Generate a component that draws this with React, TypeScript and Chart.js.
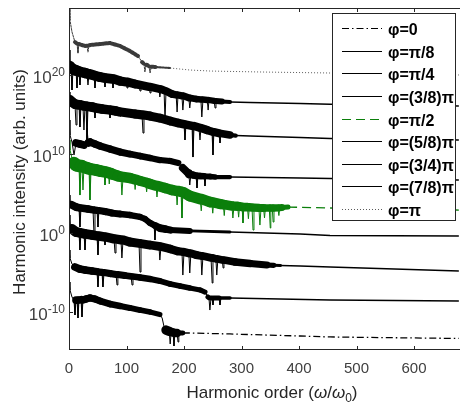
import React, { useEffect, useRef } from 'react';
import { Chart, registerables } from 'chart.js';

Chart.register(...registerables);

// ---------- data: [harmonic order, log10(intensity)] ----------
const X_TICKS = [0, 100, 200, 300, 400, 500, 600];
const Y_TICKS = [-10, 0, 10, 20];
const Y_TICK_EXP = ['-10', '0', '10', '20'];
const LEGEND_LABELS = ['φ=0', 'φ=π/8', 'φ=π/4', 'φ=(3/8)π', 'φ=π/2', 'φ=(5/8)π', 'φ=(3/4)π', 'φ=(7/8)π', 'φ=π'];
const X_TITLE = ['Harmonic order (', 'ω', '/', 'ω', '0', ')'];
const Y_TITLE = 'Harmonic intensity (arb. units)';

const phi0 = [[0,-6.21],[1.7,-7.22],[5.2,-8.11],[8.7,-8.49],[10.4,-10.39],[12.2,-8.49],[14,-8.49],[15.6,-10.77],[17.4,-8.49],[20.9,-8.45],[22.6,-10.64],[24.3,-8.49],[29.6,-8.36],[36.5,-8.24],[45.2,-8.36],[54,-8.62],[71.3,-9.0],[88.7,-9.25],[106,-9.5],[123.5,-9.76],[141,-10.01],[158,-10.33],[162,-10.77],[165,-11.78],[168.7,-12.29],[174.3,-12.45],[176,-14.06],[177.6,-12.54],[181,-12.6],[182.6,-14.31],[184,-12.67],[188,-12.67],[189.6,-13.81],[191,-12.67],[198,-12.67],[210,-12.67],[280,-12.79],[402,-13.05],[454,-13.17],[678,-13.36]];
const phi1 = [[0,-2.16],[1.7,-3.17],[5.2,-3.93],[10.4,-4.31],[19,-4.57],[27.8,-4.69],[40,-4.82],[48.7,-4.9],[50.4,-6.84],[52,-4.95],[57.4,-5.0],[59,-6.84],[61,-5.01],[71.3,-5.14],[81.8,-5.25],[83.5,-6.59],[85,-5.26],[97,-5.39],[108,-5.5],[109.6,-6.59],[111.3,-5.51],[123.5,-5.64],[141,-5.83],[158,-6.08],[176,-6.46],[193,-6.72],[210,-6.97],[228,-7.22],[236.5,-7.48],[241.7,-8.11],[243.4,-8.2],[245,-9.76],[247,-8.24],[249,-8.24],[250.4,-9.12],[252,-8.24],[261,-8.24],[262.6,-9.12],[264.3,-8.24],[280,-8.24],[454,-8.49],[678,-8.62]];
const phi2 = [[0,2.27],[1.7,1.13],[5.2,0.5],[12.2,0.12],[17.4,0.05],[19,-2.16],[20.9,0],[26.1,-0.1],[27.8,-2.16],[29.6,-0.13],[40,-0.26],[48.7,-0.37],[50.4,-2.79],[52,-0.39],[61,-0.5],[62.6,-1.53],[64.3,-0.51],[78.3,-0.75],[80,-2.54],[81.7,-0.77],[90.4,-0.87],[92,-3.17],[94,-0.89],[106,-1.15],[121.8,-1.32],[123.5,-4.95],[125.2,-1.34],[141,-1.53],[156.5,-1.7],[158,-3.43],[160,-1.72],[176,-2.03],[188,-2.29],[196.5,-2.38],[198,-5.33],[200,-2.41],[208.5,-2.57],[210,-5.07],[212,-2.6],[221,-2.79],[229.5,-2.9],[231,-5.33],[233,-2.92],[247,-3.15],[249,-6.34],[250.4,-3.17],[255.5,-3.28],[257,-5.33],[259,-3.3],[266.5,-3.42],[268,-4.44],[269.5,-3.43],[289,-3.68],[315,-3.87],[344,-4.06],[356,-4.1],[368,-4.13],[402,-4.19],[454,-4.31],[678,-4.82]];
const phi3 = [[0,4.8],[1.7,3.92],[5.2,3.54],[12.2,3.28],[17.4,3.18],[19,0.75],[20.9,3.16],[33,3.03],[41.8,2.92],[43.5,-0.26],[45.2,2.9],[48.7,2.87],[50.4,0.75],[52,2.84],[62.6,2.71],[74.8,2.52],[88.7,2.4],[106,2.27],[123.5,2.02],[132,1.77],[141,1.26],[148,1.0],[149.5,-0.89],[151,0.88],[158,0.62],[167,0.5],[176,0.37],[210,0.25],[280,0.12],[402,-0.13],[454,-0.32],[678,-0.39]];
const phi4 = [[0,11.77],[1.7,10.5],[5.2,9.49],[8.7,8.85],[12.2,8.6],[17.4,8.5],[19,4.8],[20.9,8.47],[22.6,8.45],[24.3,5.44],[26,8.35],[31.3,8.22],[34.8,8.15],[36.5,4.17],[38.3,8.09],[47,7.97],[54,7.84],[61,7.75],[62.6,6.07],[64.3,7.71],[68.5,7.62],[70,6.2],[71.6,7.58],[74.8,7.46],[85,7.21],[90.4,7.12],[92,4.8],[94,7.08],[106,6.95],[113.3,6.8],[115,5.5],[116.6,6.78],[123.5,6.58],[133.3,6.4],[135,5.2],[136.6,6.35],[141,6.2],[151.3,5.98],[153,4.55],[154.8,5.94],[167,5.69],[179,5.44],[186.4,5.33],[188,3.54],[189.6,5.31],[194.8,5.22],[196.5,1.89],[198,5.18],[210,4.68],[228,4.3],[230,2.8],[231.6,4.27],[245,3.92],[248.3,3.88],[250,2.5],[251.6,3.85],[262.6,3.66],[268.3,3.6],[270,2.2],[271.6,3.56],[283.4,3.42],[285,1.89],[287,3.41],[293.3,3.38],[295,2.0],[296.6,3.36],[301,3.3],[302.6,1.26],[304,3.28],[310.3,3.26],[312,1.8],[313.6,3.25],[318.3,3.23],[320,0.37],[321.7,3.22],[330.3,3.17],[332,1.0],[334,3.16],[338.3,3.16],[340,1.9],[341.6,3.16],[348.3,3.16],[350,0.62],[351,3.16],[353.5,3.16],[355,1.38],[356.5,3.16],[363.3,3.18],[365,2.2],[366.6,3.2],[370,3.22],[381,3.28],[454,3.16],[678,2.9]];
const phi5 = [[0,14.3],[1.7,12.4],[5.2,11.51],[8.7,9.87],[12.2,11.39],[19,11.26],[26,11.13],[29.6,11.8],[31.3,13.29],[33,11.8],[34,11.39],[36.5,11.51],[45.2,11.26],[54,11.01],[71.3,10.63],[88.7,10.25],[106,9.99],[123.5,9.74],[141,9.49],[158,9.23],[176,9.11],[190,8.85],[198,8.22],[207,7.59],[208.6,7.4],[210,6.07],[212,7.4],[215.6,7.33],[221,7.25],[222.6,5.69],[224.3,7.22],[227.8,7.21],[235,7.17],[236.5,5.94],[238,7.16],[245,7.14],[254,7.08],[280,7.08],[402,6.95],[454,6.89],[678,6.7]];
const phi6 = [[0,17.84],[1.7,16.83],[5.2,16.58],[10.4,16.32],[12.2,13.67],[13.9,16.26],[17.4,16.22],[19,13.41],[20.9,16.2],[24.3,16.1],[26,13.03],[27.8,16.07],[29.6,16.05],[31.3,11.77],[33,16.01],[40,15.94],[43.5,15.88],[45.2,14.55],[47,15.82],[57.4,15.69],[69.6,15.58],[71.3,14.55],[73,15.56],[81.7,15.44],[87,15.33],[88.7,14.8],[90.4,15.31],[114.8,15.06],[127,14.95],[128.7,12.65],[130.4,14.93],[141,14.8],[158,14.55],[176,14.17],[189.6,13.92],[200,13.76],[201.7,11.77],[203.5,13.73],[214,13.56],[215.6,9.61],[217.4,13.54],[226,13.35],[227.8,11.77],[229.5,13.29],[240,13.03],[248.7,12.82],[250.4,9.87],[252,12.78],[261,12.62],[262.6,11.39],[264.3,12.59],[280,12.4],[290,12.33],[315,12.27],[402,12.08],[454,11.96],[678,11.77]];
const phi7 = [[0,23.16],[1.7,21.1],[3.5,20.88],[5.2,18.1],[7,20.75],[10.4,20.63],[12.2,20.58],[13.9,18.35],[15.6,20.5],[17.4,20.45],[19,18.73],[20.9,20.38],[27.8,20.25],[31.3,20.18],[33,18.73],[34.8,20.12],[43.5,19.95],[45.2,18.35],[47,19.87],[54,19.74],[61,19.63],[62.6,18.48],[64.3,19.6],[74.8,19.51],[76.5,18.35],[78.3,19.49],[88.7,19.24],[99.3,19.12],[101,18.35],[102.6,19.1],[114.8,18.86],[121.8,18.76],[123.5,17.97],[125.2,18.73],[139.3,18.5],[141,17.72],[142.6,18.48],[156.5,18.24],[158,17.21],[160,18.22],[165.3,18.05],[167,14.3],[168.7,17.97],[179,17.59],[186.3,17.48],[188,15.31],[189.6,17.46],[196.4,17.36],[198,15.56],[200,17.34],[208.4,17.1],[210,15.82],[212,17.08],[221,16.96],[229.4,16.9],[231,14.68],[233,16.89],[240.4,16.84],[242,15.56],[243.5,16.83],[252.4,16.72],[254,15.82],[255.6,16.7],[266,16.64],[280,16.58],[315,16.51],[402,16.39],[454,16.29],[678,16.07]];
const phi8 = [[0,28.35],[1.7,26.96],[5.2,25.44],[10.4,24.17],[14,23.95],[15.6,22.78],[17,23.92],[28,23.67],[31.3,23.7],[33,22.91],[34.8,23.75],[36.5,23.79],[54,23.92],[71,24.05],[89,23.67],[106,23.03],[120,22.4],[127,21.64],[130.4,21.4],[132,20.38],[134,21.3],[136,21.26],[139.3,21.1],[141,20.25],[143,21.05],[150,21.01],[176,20.88],[210,20.63],[245,20.5],[332,20.38],[454,20.25],[678,20.0]];

const SERIES = [phi0, phi1, phi2, phi3, phi4, phi5, phi6, phi7, phi8];

// ---------- styles ----------
const COLORS = ['#000000', '#000000', '#000000', '#000000', '#0b7f0b', '#000000', '#000000', '#000000', '#5a5a5a'];
const BAND_COLORS = ['#000000', '#000000', '#000000', '#000000', '#0b7f0b', '#000000', '#000000', '#000000', '#3a3a3a'];
const TAIL_DASH = [[7, 3, 1.5, 3], [], [], [], [9, 5], [], [], [], [1, 2]];
const BAND_DASH = [[], [], [], [], [], [], [], [], [2, 1.2]];
const LEGEND_DASH = [[7, 3, 1.5, 3], [], [], [], [9, 5], [], [], [], [1, 2]];
// [harmonic, band width px]; the last entry marks the start of the thin tail
const WIDTH_PROFILE = [
  [[0, 8], [160, 5], [163, 10], [190, 8], [200, 1.3]],
  [[0, 8], [240, 5], [262, 5], [285, 1.6]],
  [[0, 10], [340, 7], [370, 1.6]],
  [[0, 8], [140, 6], [160, 8], [230, 4], [260, 1.6]],
  [[0, 13], [120, 10], [230, 11], [370, 7], [385, 1.3]],
  [[0, 8], [180, 6], [200, 8], [260, 5], [290, 1.6]],
  [[0, 10], [270, 8], [295, 1.6]],
  [[0, 11], [260, 6], [290, 1.6]],
  [[0, 4], [150, 4], [170, 1]],
];

const FONT = '"Liberation Sans", Arial, Helvetica, sans-serif';

function widthAt(profile: number[][], h: number): number {
  if (h <= profile[0][0]) return profile[0][1];
  for (let k = 1; k < profile.length; k++) {
    const [h1, w1] = profile[k];
    const [h0, w0] = profile[k - 1];
    if (h <= h1) return w0 + ((w1 - w0) * (h - h0)) / (h1 - h0);
  }
  return profile[profile.length - 1][1];
}

function segH(c: any): number {
  const a = c.p0.parsed ? c.p0.parsed.x : c.chart.scales.x.getValueForPixel(c.p0.x);
  const b = c.p1.parsed ? c.p1.parsed.x : c.chart.scales.x.getValueForPixel(c.p1.x);
  return (a + b) / 2;
}

function isSteep(c: any): boolean {
  const dy = Math.abs(c.p1.y - c.p0.y);
  const dx = Math.abs(c.p1.x - c.p0.x);
  return dy > 2.5 && dy > dx;
}

function isTail(i: number, c: any): boolean {
  const prof = WIDTH_PROFILE[i];
  return segH(c) >= prof[prof.length - 1][0];
}

const axesPlugin = {
  id: 'matlabAxes',
  afterDatasetsDraw(chart: any) {
    const { ctx, chartArea: a, scales } = chart;
    const x = scales.x;
    const y = scales.y;
    ctx.save();
    ctx.strokeStyle = '#262626';
    ctx.lineWidth = 1;
    ctx.beginPath();
    ctx.moveTo(a.left + 0.5, a.top + 0.5);
    ctx.lineTo(a.right, a.top + 0.5);
    ctx.moveTo(a.left + 0.5, a.top);
    ctx.lineTo(a.left + 0.5, a.bottom - 0.5);
    ctx.lineTo(a.right, a.bottom - 0.5);
    for (const t of X_TICKS) {
      const px = Math.round(x.getPixelForValue(t)) + 0.5;
      ctx.moveTo(px, a.bottom);
      ctx.lineTo(px, a.bottom - 4);
      ctx.moveTo(px, a.top);
      ctx.lineTo(px, a.top + 4);
    }
    for (const t of Y_TICKS) {
      const py = Math.round(y.getPixelForValue(t)) + 0.5;
      ctx.moveTo(a.left, py);
      ctx.lineTo(a.left + 4, py);
    }
    ctx.stroke();

    // tick labels
    ctx.fillStyle = '#404040';
    ctx.textBaseline = 'alphabetic';
    ctx.font = `15px ${FONT}`;
    ctx.textAlign = 'center';
    for (const t of X_TICKS) {
      ctx.fillText(String(t), x.getPixelForValue(t), a.bottom + 23);
    }
    Y_TICKS.forEach((t, k) => {
      const py = y.getPixelForValue(t);
      ctx.textAlign = 'right';
      ctx.font = `12px ${FONT}`;
      const exp = Y_TICK_EXP[k];
      const ew = ctx.measureText(exp).width;
      ctx.fillText(exp, a.left - 4, py + 1.5);
      ctx.font = `17px ${FONT}`;
      ctx.fillText('10', a.left - 4 - ew, py + 8.5);
    });

    // axis titles
    ctx.fillStyle = '#262626';
    const pieces = [
      { t: X_TITLE[0], f: `17px ${FONT}`, dy: 0 },
      { t: X_TITLE[1], f: `italic 17px ${FONT}`, dy: 0 },
      { t: X_TITLE[2], f: `17px ${FONT}`, dy: 0 },
      { t: X_TITLE[3], f: `italic 17px ${FONT}`, dy: 0 },
      { t: X_TITLE[4], f: `12px ${FONT}`, dy: 4 },
      { t: X_TITLE[5], f: `17px ${FONT}`, dy: 0 },
    ];
    let total = 0;
    for (const p of pieces) {
      ctx.font = p.f;
      total += ctx.measureText(p.t).width;
    }
    let cx = 272 - total / 2;
    ctx.textAlign = 'left';
    for (const p of pieces) {
      ctx.font = p.f;
      ctx.fillText(p.t, cx, 398 + p.dy);
      cx += ctx.measureText(p.t).width;
    }
    ctx.translate(25, 182);
    ctx.rotate(-Math.PI / 2);
    ctx.textAlign = 'center';
    ctx.font = `17px ${FONT}`;
    ctx.fillText(Y_TITLE, 0, 0);
    ctx.restore();
  },
  afterDraw(chart: any) {
    const { ctx } = chart;
    ctx.save();
    const L = 332, T = 13, R = 456, B = 221;
    ctx.fillStyle = '#ffffff';
    ctx.fillRect(L, T, R - L, B - T);
    ctx.strokeStyle = '#262626';
    ctx.lineWidth = 1;
    ctx.strokeRect(L + 0.5, T + 0.5, R - L - 1, B - T - 1);
    const step = (209 - 28) / (LEGEND_LABELS.length - 1);
    LEGEND_LABELS.forEach((lab, k) => {
      const ry = Math.round(28 + k * step) + 0.5;
      ctx.strokeStyle = COLORS[k];
      ctx.lineWidth = 1;
      ctx.setLineDash(LEGEND_DASH[k]);
      ctx.beginPath();
      ctx.moveTo(342, ry);
      ctx.lineTo(382, ry);
      ctx.stroke();
      ctx.setLineDash([]);
      ctx.fillStyle = '#000000';
      ctx.font = `bold 16px ${FONT}`;
      ctx.textAlign = 'left';
      ctx.textBaseline = 'alphabetic';
      ctx.fillText(lab, 388, ry + 6);
    });
    ctx.restore();
  },
};

export default function App() {
  const ref = useRef<HTMLCanvasElement | null>(null);
  useEffect(() => {
    document.body.style.margin = '0';
    const canvas = ref.current;
    if (!canvas) return;
    const datasets = SERIES.map((pts, i) => ({
      label: LEGEND_LABELS[i],
      data: pts.map(([hx, ey]) => ({ x: hx, y: ey })),
      borderColor: COLORS[i],
      backgroundColor: COLORS[i],
      borderWidth: 1.5,
      pointRadius: 0,
      pointHoverRadius: 0,
      tension: 0,
      fill: false,
      clip: 0,
      borderCapStyle: 'round' as const,
      borderJoinStyle: 'round' as const,
      segment: {
        borderWidth: (c: any) => {
          if (isSteep(c)) return 1;
          return widthAt(WIDTH_PROFILE[i], segH(c));
        },
        borderDash: (c: any) => (isTail(i, c) ? TAIL_DASH[i] : BAND_DASH[i]),
        borderCapStyle: (c: any) => (isTail(i, c) ? 'butt' : 'round'),
        borderColor: (c: any) => (isTail(i, c) ? COLORS[i] : BAND_COLORS[i]),
      },
    }));
    const chart = new Chart(canvas, {
      type: 'line',
      data: { datasets },
      options: {
        animation: false,
        responsive: false,
        devicePixelRatio: 1,
        layout: { padding: { left: 0, right: 0, top: 8, bottom: 0 } },
        plugins: { legend: { display: false }, tooltip: { enabled: false } },
        scales: {
          x: {
            type: 'linear',
            min: 0,
            max: 680,
            grid: { display: false },
            border: { display: false },
            ticks: { display: false },
            afterFit: (s: any) => { s.height = 53; },
          },
          y: {
            type: 'linear',
            min: -14.82,
            max: 28.48,
            grid: { display: false },
            border: { display: false },
            ticks: { display: false },
            afterFit: (s: any) => { s.width = 69; },
          },
        },
      },
      plugins: [axesPlugin],
    });
    return () => chart.destroy();
  }, []);
  return (
    <div style={{ position: 'absolute', left: 0, top: 0, width: 460, height: 403 }}>
      <canvas ref={ref} width={460} height={403} style={{ display: 'block' }} />
    </div>
  );
}
